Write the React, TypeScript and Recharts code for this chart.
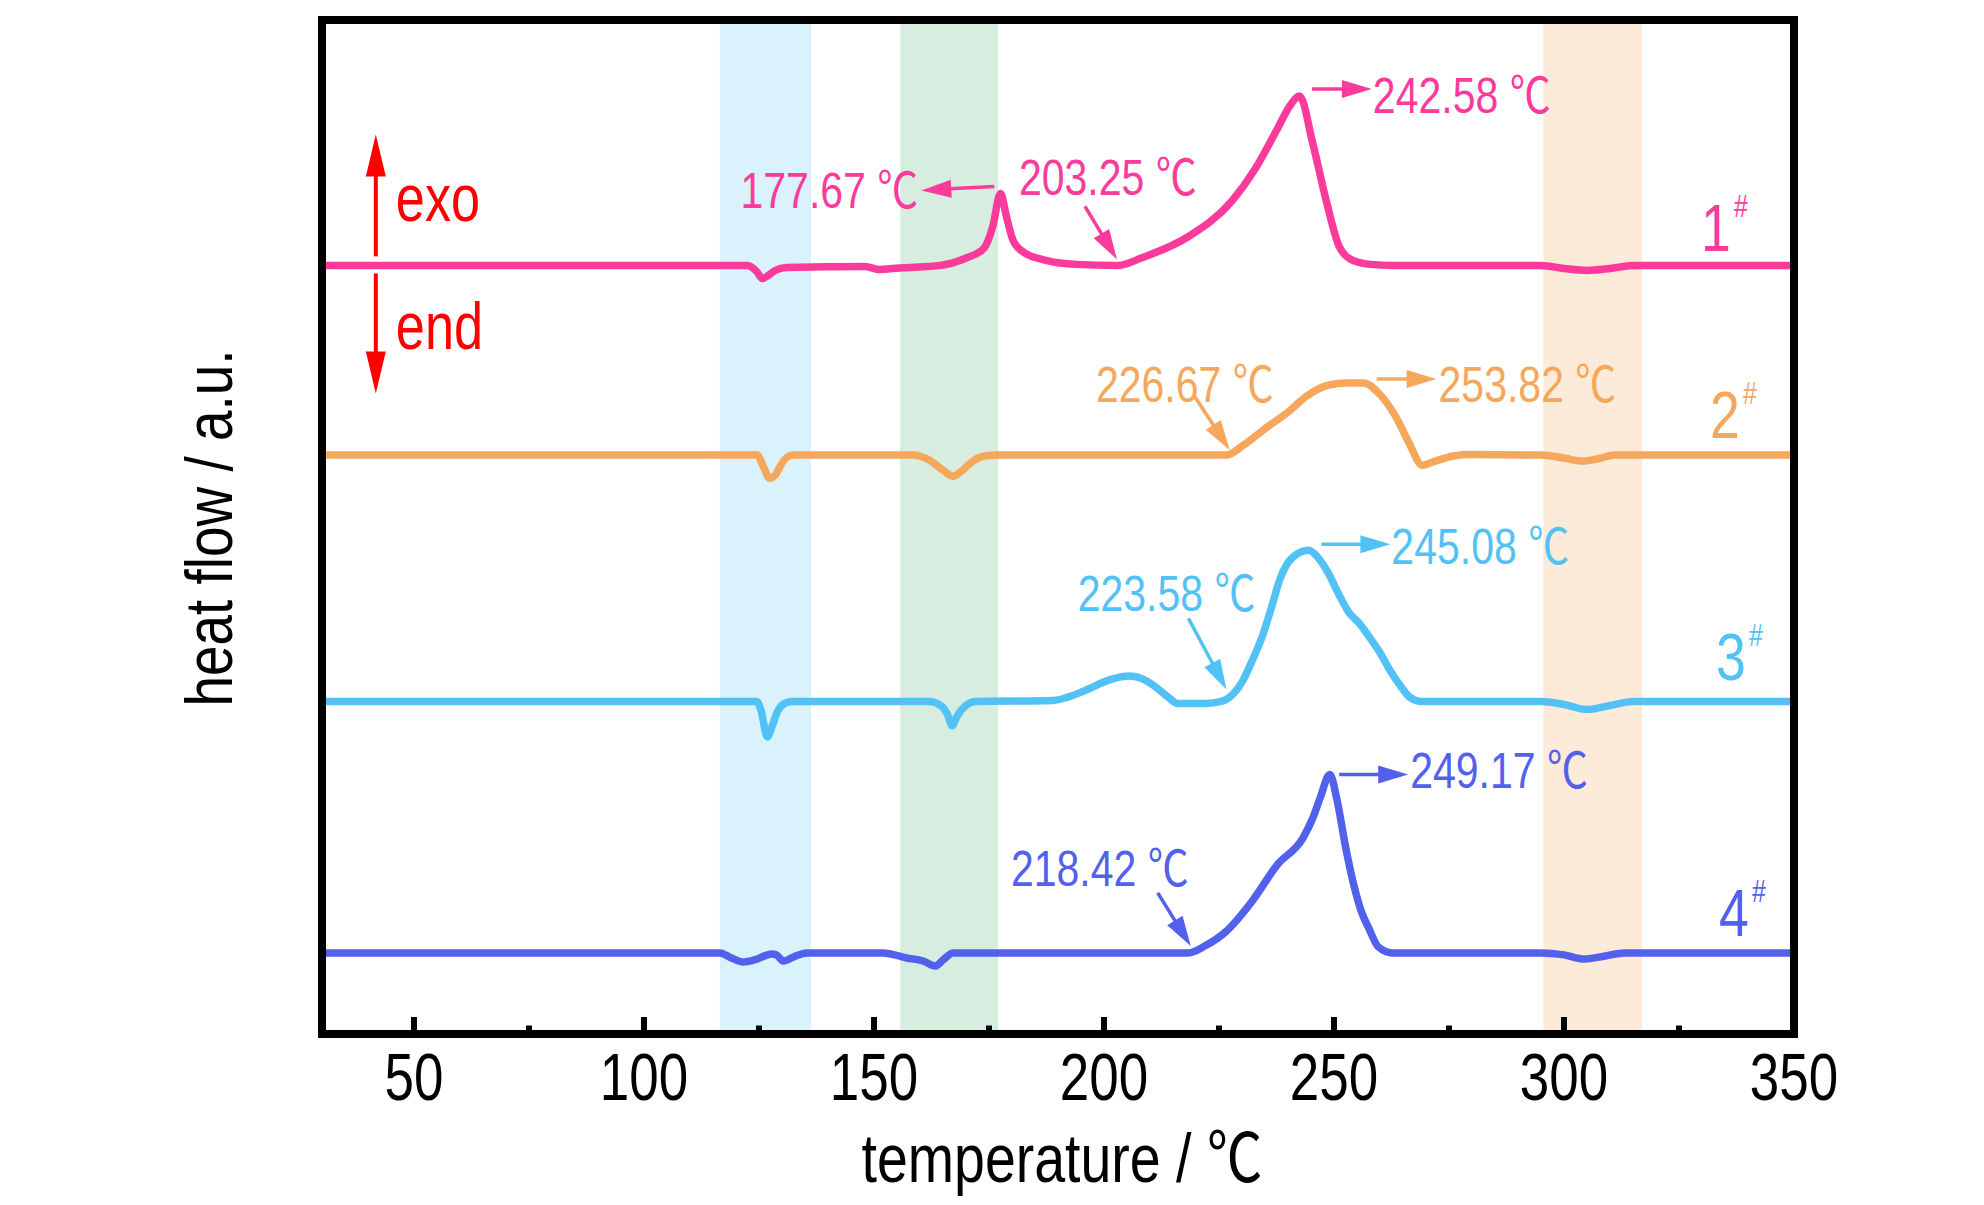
import React from 'react';
import { LineChart, Line, XAxis, YAxis, ReferenceArea, ReferenceDot } from 'recharts';

const FONT = "'Liberation Sans', Arial, 'Noto Sans CJK SC', sans-serif";

// ---------- data ----------
const xDomain: [number, number] = [30, 350];
const yDomain: [number, number] = [0, 100];
const xTicks = [50, 75, 100, 125, 150, 175, 200, 225, 250, 275, 300, 325, 350];

const seriesNames = ['1', '2', '3', '4'];
const seriesColors = ['#FA3B9C', '#F5A75C', '#52C2F6', '#5161EC'];
const seriesOffsets = [75.8, 57.1, 32.8, 8.0];

// [temperature °C, heat flow (a.u.) relative to the curve's own baseline]
const curve1: [number, number][] = [
  [30, 0], [122.5, 0], [124.5, -0.6], [125.7, -1.3], [127, -1.0], [128.5, -0.5], [131, -0.2],
  [148, -0.1], [151, -0.4], [155.5, -0.25], [164.5, 0], [169.9, 0.7], [173.9, 1.7], [175.8, 3.8],
  [177.5, 7.1], [178.8, 4.8], [180.2, 2.5], [182.5, 1.3], [187.4, 0.5], [194, 0.1], [203, 0],
  [208.5, 0.8], [218.2, 2.8], [227.9, 6.4], [232.7, 9.4], [237.5, 13.3], [240.5, 15.8], [242.5, 16.7],
  [245.4, 12.0], [248.3, 6.4], [251.2, 1.8], [254.1, 0.5], [258, 0.1], [263, 0], [295, 0],
  [300, -0.3], [305, -0.5], [310, -0.3], [315, 0], [350, 0],
];
const curve2: [number, number][] = [
  [30, 0], [124.6, 0], [126, -1.2], [127.3, -2.3], [128.5, -2.0], [130, -0.8], [131.5, -0.1], [133, 0],
  [158.5, 0], [162, -0.5], [165, -1.5], [167.2, -2.1], [169, -1.6], [171.5, -0.6], [174, -0.1], [177, 0],
  [226.6, 0], [230.4, 1.0], [235, 2.6], [240.2, 4.3], [244, 5.8], [248.8, 6.9], [252.7, 7.1],
  [256.5, 7.1], [259.5, 6.2], [263.4, 3.8], [266.3, 1.2], [269.2, -1.0], [272, -0.6], [276, -0.1],
  [279, 0.05], [295, 0], [300, -0.3], [304, -0.6], [308, -0.3], [311, 0], [350, 0],
];
const curve3: [number, number][] = [
  [30, 0], [124.5, 0], [125.5, -1.0], [126.8, -3.5], [127.8, -2.5], [129, -1.0], [130.5, -0.2], [132, 0],
  [162, 0], [164.5, -0.4], [166, -1.3], [167, -2.4], [168, -1.5], [170, -0.4], [172, 0],
  [189, 0.1], [192, 0.4], [197, 1.3], [201, 2.1], [205.6, 2.5], [208.5, 2.2], [211, 1.5], [214, 0.4],
  [216, -0.2], [222, -0.2], [225.5, 0], [228, 0.7], [230, 1.9], [232, 3.8], [234.4, 6.4], [236.5, 9.4],
  [238.2, 12.0], [241, 14.2], [244.5, 14.9], [246.5, 14.2], [248.7, 12.7], [251, 10.6], [253.2, 8.8],
  [255.5, 7.7], [257.6, 6.4], [260, 4.8], [262, 3.2], [264.5, 1.5], [266.5, 0.4], [269, 0],
  [295, 0], [300, -0.3], [305, -0.8], [310, -0.4], [315, 0], [350, 0],
];
const curve4: [number, number][] = [
  [30, 0], [116.5, 0], [119, -0.5], [121.6, -0.9], [124, -0.7], [127.8, -0.1], [128.8, -0.2],
  [130.3, -0.8], [132.5, -0.4], [135.4, 0], [152, 0], [157.1, -0.5], [160.7, -0.8], [163.3, -1.3],
  [165, -0.7], [167.2, 0], [218.3, 0], [222, 0.7], [226.5, 2.1], [232.2, 5.1], [237.7, 8.7],
  [243.2, 11.3], [245.4, 13.3], [247, 15.3], [249.1, 17.6], [250.6, 15.2], [252.5, 10.5],
  [254.3, 6.7], [256, 4.0], [257.6, 2.4], [259.6, 0.6], [262.6, 0], [295, 0], [300, -0.2],
  [304.4, -0.6], [309, -0.3], [313, 0], [350, 0],
];
const curves = [curve1, curve2, curve3, curve4];

// highlighted temperature ranges
const bandStarts = [116.5, 155.7, 295.5];
const bandEnds = [136.3, 177.0, 317.0];
const bandColors = ['#D9F2FB', '#D6EDE0', '#FDEBD9'];

// annotated temperatures
const annotLabels = ['177.67 ℃', '203.25 ℃', '242.58 ℃', '226.67 ℃', '253.82 ℃', '223.58 ℃', '245.08 ℃', '218.42 ℃', '249.17 ℃'];
const annotTemps = [177.67, 203.25, 242.58, 226.67, 253.82, 223.58, 245.08, 218.42, 249.17];
const annotSeries = [0, 0, 0, 1, 1, 2, 2, 3, 3];
const annotHeights = [7.1, 0, 16.7, 0, 7.1, 0, 14.9, 0, 17.6];

// ---------- layout (pixels, relative to annotation anchor) ----------
type AnnLayout = { tail: [number, number]; tip: [number, number]; text: [number, number]; anchor: 'start' | 'end' };
const annotLayout: AnnLayout[] = [
  { tail: [-7, -7], tip: [-80, -3], text: [-83, 15], anchor: 'end' },
  { tail: [-34, -59], tip: [-2, -6], text: [-100, -70], anchor: 'start' },
  { tail: [12, -7], tip: [72, -7], text: [73, 17], anchor: 'start' },
  { tail: [-33, -60], tip: [3, -5], text: [47, -53], anchor: 'end' },
  { tail: [25, -4], tip: [85, -4], text: [87, 19], anchor: 'start' },
  { tail: [-24, -83], tip: [14, -12], text: [43, -90], anchor: 'end' },
  { tail: [10, -6], tip: [79, -6], text: [80, 14], anchor: 'start' },
  { tail: [-31, -60], tip: [2, -7], text: [0, -67], anchor: 'end' },
  { tail: [9, 0], tip: [78, 0], text: [80, 14], anchor: 'start' },
];
const seriesLabelT = 330;
const seriesLabelDx = [-1, 8, 14, 17];
const seriesLabelDy = [-14, -17, -21, -17];

const SQ = 0.82;

function SText(p: { x: number; y: number; sx: number; size: number; fill: string; anchor?: string; children: any }) {
  return (
    <text
      transform={`translate(${p.x},${p.y}) scale(${p.sx},1)`}
      fontSize={p.size}
      fill={p.fill}
      textAnchor={p.anchor || 'start'}
      fontFamily={FONT}
    >
      {p.children}
    </text>
  );
}

function Arrow(p: { x1: number; y1: number; x2: number; y2: number; color: string; w?: number; head?: number; half?: number }) {
  const w = p.w ?? 3.5;
  const head = p.head ?? 30;
  const half = p.half ?? 9;
  const dx = p.x2 - p.x1;
  const dy = p.y2 - p.y1;
  const L = Math.hypot(dx, dy) || 1;
  const ux = dx / L;
  const uy = dy / L;
  const bx = p.x2 - ux * head;
  const by = p.y2 - uy * head;
  const px = -uy;
  const py = ux;
  return (
    <g>
      <line x1={p.x1} y1={p.y1} x2={bx + ux * 2} y2={by + uy * 2} stroke={p.color} strokeWidth={w} />
      <polygon
        points={`${p.x2},${p.y2} ${bx + px * half},${by + py * half} ${bx - px * half},${by - py * half}`}
        fill={p.color}
      />
    </g>
  );
}

const renderTick = (props: any) => {
  const { x, y, payload } = props;
  const major = payload.value % 50 === 0;
  return (
    <g>
      <line x1={x} x2={x} y1={y} y2={y - (major ? 17 : 8.5)} stroke="#000" strokeWidth={6} />
      {major ? (
        <SText x={x} y={y + 66} sx={0.79} size={67} fill="#000" anchor="middle">
          {String(payload.value)}
        </SText>
      ) : null}
    </g>
  );
};

const frameLine = { stroke: '#000', strokeWidth: 8, strokeLinecap: 'square' as const };

const renderYLabel = (lp: any) => {
  const vb = lp && lp.viewBox && typeof lp.viewBox.y === 'number' ? lp.viewBox : { x: 321, y: 20, width: 1, height: 1014 };
  const cx = vb.x + (vb.width || 0) - 90;
  const cy = vb.y + vb.height / 2 + 1;
  return (
    <text
      transform={`translate(${cx},${cy}) rotate(-90) scale(0.82,1)`}
      textAnchor="middle"
      fontSize={67}
      fill="#000"
      fontFamily={FONT}
    >
      heat flow / a.u.
    </text>
  );
};

export default function App() {
  const chartData = curves.map((c, i) => c.map(([T, d]) => ({ T, v: seriesOffsets[i] + d })));

  return (
    <div style={{ position: 'absolute', left: 0, top: 0, width: 1984, height: 1205, background: '#fff' }}>
      <LineChart width={1984} height={1205} margin={{ top: 19, right: 189, bottom: 71, left: 321 }}>
        <XAxis
          dataKey="T"
          type="number"
          domain={xDomain}
          ticks={xTicks}
          interval={0}
          allowDataOverflow
          height={100}
          tickSize={0}
          tickMargin={0}
          tickLine={false}
          tick={renderTick}
          axisLine={frameLine}
          label={(lp: any) => {
            const vb = lp && lp.viewBox && typeof lp.viewBox.y === 'number' ? lp.viewBox : { x: 322, y: 1034, width: 1472 };
            return (
              <SText x={vb.x + vb.width / 2 + 4} y={vb.y + 148} sx={0.816} size={68} fill="#000" anchor="middle">
                temperature / ℃
              </SText>
            );
          }}
        />
        <XAxis
          xAxisId="top"
          orientation="top"
          type="number"
          domain={xDomain}
          height={1}
          tick={false}
          tickLine={false}
          axisLine={frameLine}
        />
        <YAxis
          type="number"
          domain={yDomain}
          width={1}
          tick={false}
          tickLine={false}
          axisLine={frameLine}
          label={renderYLabel}
        />
        <YAxis
          yAxisId="right"
          orientation="right"
          type="number"
          domain={yDomain}
          width={1}
          tick={false}
          tickLine={false}
          axisLine={frameLine}
        />

        {bandStarts.map((s, i) => (
          <ReferenceArea key={`band${i}`} x1={s} x2={bandEnds[i]} fill={bandColors[i]} fillOpacity={1} stroke="none" />
        ))}

        {chartData.map((d, i) => (
          <Line
            key={`s${i}`}
            data={d}
            dataKey="v"
            type="monotone"
            stroke={seriesColors[i]}
            strokeWidth={7.5}
            dot={false}
            activeDot={false}
            isAnimationActive={false}
            strokeLinejoin="round"
          />
        ))}

        {annotTemps.map((t, i) => {
          const s = annotSeries[i];
          const L = annotLayout[i];
          const color = seriesColors[s];
          return (
            <ReferenceDot
              key={`ann${i}`}
              x={t}
              y={seriesOffsets[s] + annotHeights[i]}
              r={1}
              fill="none"
              stroke="none"
              shape={(sp: any) => {
                const cx = sp.cx;
                const cy = sp.cy;
                return (
                  <g>
                    <Arrow x1={cx + L.tail[0]} y1={cy + L.tail[1]} x2={cx + L.tip[0]} y2={cy + L.tip[1]} color={color} />
                    <SText x={cx + L.text[0]} y={cy + L.text[1]} sx={SQ} size={50} fill={color} anchor={L.anchor}>
                      {annotLabels[i]}
                    </SText>
                  </g>
                );
              }}
            />
          );
        })}

        {seriesNames.map((n, i) => (
          <ReferenceDot
            key={`lab${i}`}
            x={seriesLabelT}
            y={seriesOffsets[i]}
            r={1}
            fill="none"
            stroke="none"
            shape={(sp: any) => (
              <text
                transform={`translate(${sp.cx + seriesLabelDx[i]},${sp.cy + seriesLabelDy[i]}) scale(0.8,1)`}
                fontSize={67}
                fill={seriesColors[i]}
                fontFamily={FONT}
              >
                {n}
                <tspan fontSize={31} dx={4} dy={-34}>#</tspan>
              </text>
            )}
          />
        ))}

        <ReferenceDot
          x={41.7}
          y={seriesOffsets[0]}
          r={1}
          fill="none"
          stroke="none"
          shape={(sp: any) => {
            const cx = sp.cx;
            const cy = sp.cy;
            return (
              <g>
                <Arrow x1={cx} y1={cy - 9} x2={cx} y2={cy - 131} color="#FF0000" w={4} head={42} half={10} />
                <Arrow x1={cx} y1={cy + 8} x2={cx} y2={cy + 128} color="#FF0000" w={4} head={42} half={10} />
                <SText x={cx + 20} y={cy - 44} sx={0.78} size={67} fill="#FF0000">exo</SText>
                <SText x={cx + 20} y={cy + 84} sx={0.78} size={67} fill="#FF0000">end</SText>
              </g>
            );
          }}
        />
      </LineChart>
    </div>
  );
}
